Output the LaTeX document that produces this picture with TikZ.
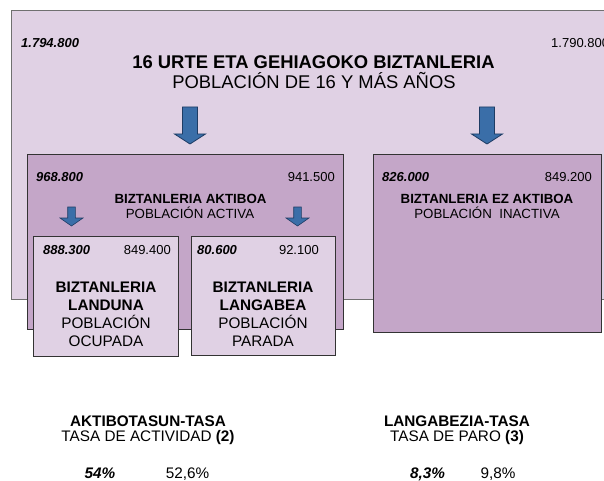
\documentclass[tikz,border=0pt]{standalone}
\usepackage{fontspec}
\setmainfont{Liberation Sans}
\definecolor{lightlav}{HTML}{E0D1E4}
\definecolor{midlav}{HTML}{C4A6C8}
\definecolor{arrowblue}{HTML}{3A6EA8}
\definecolor{arrowedge}{HTML}{1E3C64}
\definecolor{edgedark}{HTML}{333333}
\definecolor{edgegray}{HTML}{707070}
\newcommand{\myfs}[1]{\fontsize{#1}{#1}\selectfont}
\begin{document}
\begin{tikzpicture}[x=1pt,y=-1pt,
  outerbox/.style={draw=edgegray, line width=1.4pt, fill=lightlav, inner sep=0pt, anchor=north west},
  bigbox/.style={draw=edgedark, line width=0.9pt, fill=midlav, inner sep=0pt, anchor=north west},
  smallbox/.style={draw=edgedark, line width=0.9pt, fill=lightlav, inner sep=0pt, anchor=north west},
  numA/.style={font=\myfs{13}\bfseries\itshape, inner sep=0pt, anchor=base west},
  numB/.style={font=\myfs{13}, inner sep=0pt, anchor=base east},
  bigtitle/.style={font=\myfs{18.4}\bfseries, inner sep=0pt, anchor=base},
  bigsub/.style={font=\myfs{18.4}, inner sep=0pt, anchor=base},
  midtitle/.style={font=\myfs{13.3}\bfseries, inner sep=0pt, anchor=base},
  midsub/.style={font=\myfs{13.3}, inner sep=0pt, anchor=base},
  lowtitle/.style={font=\myfs{15.3}\bfseries, inner sep=0pt, anchor=base},
  lowsub/.style={font=\myfs{15.3}, inner sep=0pt, anchor=base},
  pctA/.style={font=\myfs{15.3}\bfseries\itshape, inner sep=0pt, anchor=base},
  pctB/.style={font=\myfs{15.3}, inner sep=0pt, anchor=base},
  bigarrow/.pic={\filldraw[fill=arrowblue, draw=arrowedge, line width=0.8pt, line join=miter]
     (-7.5,0) -- (7.5,0) -- (7.5,27) -- (15.5,27) -- (0,37) -- (-15.5,27) -- (-7.5,27) -- cycle;},
  smallarrow/.pic={\filldraw[fill=arrowblue, draw=arrowedge, line width=0.6pt, line join=miter]
     (-3.8,0) -- (3.8,0) -- (3.8,11) -- (11.5,11) -- (0,19) -- (-11.5,11) -- (-3.8,11) -- cycle;}
]
\useasboundingbox (0,0) rectangle (604,481);
\fill[white] (0,0) rectangle (604,481);

% outer population box
\node[outerbox, minimum width=605pt, minimum height=289pt] (pop) at (11,10) {};
\node[numA] (popA) at (21,47.7) {1.794.800};
\node[numB, anchor=base west] (popB) at (551,47.7) {1.790.800};
\node[bigtitle] (popT) at (313.5,68.6) {16 URTE ETA GEHIAGOKO BIZTANLERIA};
\node[bigsub] (popS) at (314,88.6) {POBLACIÓN DE 16 Y MÁS AÑOS};

% active and inactive
\node[bigbox, minimum width=316pt, minimum height=175pt] (act) at (27,154) {};
\node[bigbox, minimum width=228pt, minimum height=178pt] (inact) at (373,154) {};

\pic at (190,107) {bigarrow};
\pic at (487,107) {bigarrow};

\node[numA] (actA) at (36,181.7) {968.800};
\node[numB] (actB) at (335,181.7) {941.500};
\node[midtitle] (actT) at (190.5,203.8) {BIZTANLERIA AKTIBOA};
\node[midsub] (actS) at (190,218.8) {POBLACIÓN ACTIVA};

\node[numA] (inA) at (382,181.7) {826.000};
\node[numB] (inB) at (592,181.7) {849.200};
\node[midtitle] (inT) at (487,203.8) {BIZTANLERIA EZ AKTIBOA};
\node[midsub] (inS) at (487,218.8) {POBLACIÓN~ INACTIVA};

\pic at (71.5,207) {smallarrow};
\pic at (297.5,207) {smallarrow};

% employed and unemployed
\node[smallbox, minimum width=145pt, minimum height=120pt] (emp) at (33,236) {};
\node[smallbox, minimum width=144pt, minimum height=119pt] (unemp) at (191,236) {};

\node[numA] (empA) at (43,254.7) {888.300};
\node[numB] (empB) at (171,254.7) {849.400};
\node[lowtitle] (empT1) at (106,292.5) {BIZTANLERIA};
\node[lowtitle] (empT2) at (106,310.5) {LANDUNA};
\node[lowsub] (empS1) at (106,328) {POBLACIÓN};
\node[lowsub] (empS2) at (106,346.5) {OCUPADA};

\node[numA] (unA) at (197,254.7) {80.600};
\node[numB] (unB) at (319,254.7) {92.100};
\node[lowtitle] (unT1) at (263,292.5) {BIZTANLERIA};
\node[lowtitle] (unT2) at (263,310.5) {LANGABEA};
\node[lowsub] (unS1) at (263,328) {POBLACIÓN};
\node[lowsub] (unS2) at (263,346.5) {PARADA};

% rates
\node[lowtitle] (rateAT) at (148,426.5) {AKTIBOTASUN-TASA};
\node[lowsub] (rateAS) at (148,441.5) {TASA DE ACTIVIDAD \textbf{(2)}};
\node[pctA] (rateA1) at (100,478) {54\%};
\node[pctB] (rateA2) at (187.5,478) {52,6\%};

\node[lowtitle] (rateBT) at (457,426.5) {LANGABEZIA-TASA};
\node[lowsub] (rateBS) at (457,441.5) {TASA DE PARO \textbf{(3)}};
\node[pctA] (rateB1) at (427.5,478) {8,3\%};
\node[pctB] (rateB2) at (498,478) {9,8\%};
\end{tikzpicture}
\end{document}
